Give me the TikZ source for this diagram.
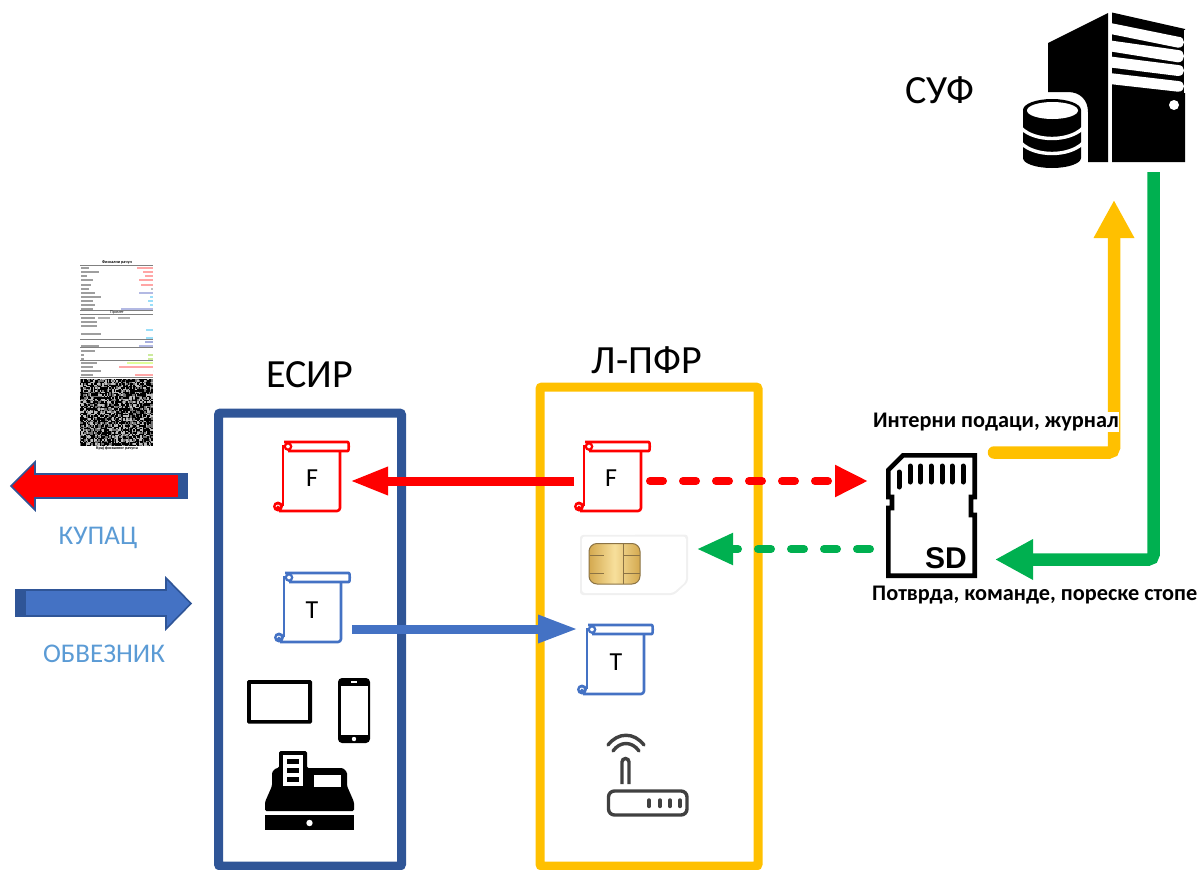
\documentclass[tikz,border=0pt]{standalone}
\usepackage{fontspec}
\setmainfont{Carlito}
\newfontfamily\sdfont{Liberation Sans}
\usetikzlibrary{arrows.meta,calc}
\definecolor{boxblue}{HTML}{2F5597}
\definecolor{midblue}{HTML}{4472C4}
\definecolor{skyblue}{HTML}{5B9BD5}
\definecolor{amber}{HTML}{FFC000}
\definecolor{leaf}{HTML}{00B050}
\definecolor{routergray}{HTML}{404040}
\definecolor{goldA}{HTML}{D4A94F}
\definecolor{goldB}{HTML}{F7DF9B}
\definecolor{goldLine}{HTML}{8B7345}
\tikzset{
  x=1pt,y=-1pt,
  container/.style={line width=9pt,rounded corners=2pt},
  bigtitle/.style={font=\fontsize{40}{44}\selectfont,text=black,inner sep=0pt},
  sidelabel/.style={font=\fontsize{27}{30}\selectfont,text=skyblue,inner sep=0pt},
  boldlabel/.style={font=\fontsize{22.3}{26}\selectfont\bfseries,text=black,inner sep=0pt},
  scrolltext/.style={font=\fontsize{26}{28}\selectfont,text=black,inner sep=0pt,minimum height=40pt},
  solidred/.style={line width=9pt,red,-{Triangle[length=38pt,width=26pt]}},
  solidblue/.style={line width=9pt,midblue,-{Triangle[length=40pt,width=26pt]}},
  dashedred/.style={line width=8pt,red,line cap=round,dash pattern=on 13pt off 20pt,-{Triangle[length=33pt,width=30pt]}},
  dashedgreen/.style={line width=8pt,leaf,line cap=round,dash pattern=on 13pt off 20pt,-{Triangle[length=36pt,width=30pt]}},
  uplink/.style={line width=12.5pt,amber,line cap=round,rounded corners=5pt,-{Triangle[length=38pt,width=38pt]}},
  downlink/.style={line width=12.5pt,leaf,rounded corners=5pt,-{Triangle[length=38pt,width=38pt]}},
  routerline/.style={routergray,line width=3.4pt,line cap=round},
  pics/scrollshape/.style={code={
    \draw[#1,line width=2.6pt,rounded corners=3pt,line join=round]
      (1,0) -- (62,0) .. controls (66,0) and (66,9) .. (62,9) -- (5,9);
    \draw[#1,line width=2.6pt,rounded corners=3pt,line join=round]
      (57,9) -- (57,69) -- (-4,69);
    \draw[#1,line width=2.6pt] (0,3) -- (0,64);
    \draw[#1,line width=2.2pt] (5,4.5) circle (3.2pt);
    \fill[#1] (-5,64.5) circle (5pt);
    \draw[white,line width=.8pt] (-7,65) arc (180:20:2pt);
  }}
}
\begin{document}
\begin{tikzpicture}
\useasboundingbox (0,0) rectangle (1203,870);

% ---------- containers
\node[draw=boxblue,container,minimum width=183pt,minimum height=453pt,inner sep=0pt] (esir) at (310,639.5) {};
\node[draw=amber,container,minimum width=218pt,minimum height=479pt,inner sep=0pt] (lpfr) at (649,626.5) {};
\node[bigtitle] (esirT) at (310,375) {ЕСИР};
\node[bigtitle] (lpfrT) at (647,360) {Л-ПФР};
\node[bigtitle] (sufT) at (940,90) {СУФ};

% ---------- receipt
\foreach \yy/\ww in {267/8,271/18,275/6,279/12,284/10,288/8,292/14,296/20,300/12,304/14,308/12,317/14,321/16,325/16,333/20,345/18,350/14,354/3,358/3,362/16,366/12,370/20,374/12}
  \fill[black!38] (81,\yy) rectangle ++(\ww,1.9);
\foreach \yy/\ww/\cc in {267/16/red!35,271/10/red!35,275/8/red!35,279/14/red!35,284/12/red!35,288/2/gray!50,292/14/cyan!30!blue!30,296/3/cyan!40,300/5/cyan!40,304/3/cyan!40,308/32/cyan!30!blue!30,329/7/cyan!40,337/7/cyan!40,341/8/cyan!30!blue!35,345/14/cyan!30!blue!30,354/5/yellow!50!green!40,358/5/yellow!50!green!40,362/26/green!30!yellow!40,366/34/red!35,370/0/gray!40,374/18/red!35}
  \fill[\cc] (153-\ww,\yy) rectangle ++(\ww,1.9);
\foreach \yy in {265,310,314,339,347,360,377}
  \fill[black!50] (80,\yy) rectangle (153,\yy+1);
\foreach \xx in {98,118}
  \fill[black!30] (\xx,317) rectangle ++(12,1.9);
\node[font=\fontsize{4.2}{5}\selectfont\bfseries,inner sep=0pt] (receiptTop) at (117,262) {Фискални рачун};
\node[font=\fontsize{4.2}{5}\selectfont,inner sep=0pt] (receiptMid) at (117,312) {Промет};
\node[font=\fontsize{4.2}{5}\selectfont\bfseries,inner sep=0pt] (receiptEnd) at (117,448.5) {Крај фискалног рачуна};
\fill[black!55] (80,379) rectangle (153,446);
\pgfmathsetseed{11}
\foreach \i in {0,...,51}{
  \foreach \j in {0,...,47}{
    \pgfmathrandominteger{\rr}{0}{3}
    \ifnum\rr<2
      \fill[black] (80+\i*1.4,379+\j*1.4) rectangle ++(1.4,1.4);
    \else\ifnum\rr=2
      \fill[white!75!black] (80+\i*1.4,379+\j*1.4) rectangle ++(1.4,1.4);
    \fi\fi
  }
}

% ---------- fat side arrows
\draw[boxblue,line width=1.6pt,fill=red,line join=miter]
  (11,486) -- (35,462) -- (35,474) -- (187,474) -- (187,498) -- (35,498) -- (35,510) -- cycle;
\fill[boxblue] (178,474) rectangle (187,498);
\draw[boxblue,line width=1.6pt,fill=midblue,line join=miter]
  (16,590) -- (166,590) -- (166,578) -- (191,603.5) -- (166,629) -- (166,616) -- (16,616) -- cycle;
\fill[boxblue] (16,590) rectangle (26,616);
\node[sidelabel] (buyer) at (98,538) {КУПАЦ};
\node[sidelabel] (payer) at (104,654) {ОБВЕЗНИК};

% ---------- scrolls
\pic at (283,442) {scrollshape=red};
\pic at (584,442) {scrollshape=red};
\pic at (284,573) {scrollshape=midblue};
\pic at (587,625) {scrollshape=midblue};
\node[scrolltext,minimum width=76pt] (eF) at (312,478) {F};
\node[scrolltext,minimum width=73pt] (lF) at (611,478) {F};
\node[scrolltext] (eT) at (312,610) {T};
\node[scrolltext] (lT) at (616,662) {T};

% ---------- tablet, phone, register
\fill[black,rounded corners=1.5pt] (247,680) rectangle (312,723.5);
\fill[white] (251,684) rectangle (308,720);
\fill[black,rounded corners=4pt] (338,678) rectangle (370,743);
\fill[white] (341,686) rectangle (367.5,735);
\fill[white] (354,739) circle (2.2pt);
\fill[white] (351,681.3) rectangle (357,682.8);
\fill[black,rounded corners=1.5pt]
  (265,811) -- (265,802) -- (272,786) -- (272,772) -- (276,768) -- (279,768) -- (279,751)
  -- (307,751) -- (307,768) -- (343,768) -- (347,772) -- (347,786) -- (354,802) -- (354,811) -- cycle;
\fill[white] (283,755) rectangle (303,786);
\fill[black] (287,759) rectangle (299,764);
\fill[black] (287,768) rectangle (299,773);
\fill[black] (287,777) rectangle (299,782);
\fill[white] (314,775) rectangle (341,787);
\fill[black] (265,814.5) rectangle (354,830);
\fill[white] (309.5,823) circle (3.2pt);

% ---------- SIM
\fill[black!6,rounded corners=3pt] (580,535) -- (688,534.5) -- (688,582) -- (674,595) -- (580,595) -- cycle;
\fill[white,rounded corners=3pt] (582,536.5) -- (686,536.5) -- (686,581.5) -- (673,593) -- (582,593) -- cycle;
\shade[left color=goldA,right color=goldA,middle color=goldB,draw=goldLine,line width=1pt,rounded corners=8pt]
  (589,543.5) rectangle (640,584);
\draw[goldLine,line width=.9pt] (589.5,555) -- (604,555) (589.5,573) -- (604,573) (623,544) -- (623,583.5) (623,555) -- (639.5,555) (623,573) -- (639.5,573);

% ---------- router
\draw[routerline,rounded corners=6pt] (608.5,791) rectangle (687,815);
\foreach \xx in {649,660,670,680} \draw[routerline] (\xx,800) -- (\xx,806.5);
\draw[routerline,line cap=butt] (622,784) -- (622,762) arc (180:0:3.5pt) -- (629,784);
\draw[routerline] (608,745) .. controls (618,732) and (634,732) .. (644,745);
\draw[routerline] (613,751) .. controls (620,741) and (632,741) .. (639,751);

% ---------- SD card
\node[minimum width=91pt,minimum height=125pt,inner sep=0pt] (sd) at (931.5,515.5) {};
\draw[black,line width=4.6pt,line join=miter]
  (888.3,470) -- (903,455.3) -- (974.7,455.3) -- (974.7,497) -- (971,497) -- (971,515) -- (974.7,515)
  -- (974.7,575.7) -- (888.3,575.7) -- (888.3,508) -- (892,508) -- (892,497) -- (888.3,497) -- cycle;
\foreach \xx in {910,920.5,931,942,952,963}
  \draw[black,line width=5pt,line cap=round] (\xx,466) -- (\xx,482);
\draw[black,line width=5pt,line cap=round] (899,472) -- (899,487);
\node[font=\sdfont\bfseries\fontsize{30}{32}\selectfont,inner sep=0pt] (sdT) at (946,558) {SD};

% ---------- server
\fill[black] (1048,43) -- (1108,13) -- (1108,162) -- (1088,162) -- (1088,112)
  .. controls (1088,100) and (1080,92) .. (1068,92) -- (1048,92) -- cycle;
\fill[black] (1112,12.5) -- (1185,29) -- (1185,162) -- (1112,162) -- cycle;
\foreach \ya/\yb/\yc/\yd in {23.3/36.7/47.7/34.3, 40.7/50/62.3/51.7, 56.7/65/76/67.7, 73.3/81/91.7/84.3}
  \fill[white] (1112,\ya) -- (1178,\yb) .. controls (1186,\yb) and (1186,\yc) .. (1178,\yc) -- (1112,\yd) -- cycle;
\fill[white] (1174,105) circle (5pt);
\fill[white] (1183.5,30) rectangle (1186,93);
\fill[black] (1023,110) arc (180:0:29pt and 11pt) -- (1081,158) arc (360:180:29pt and 10pt) -- cycle;
\fill[white] (1052.5,110.5) ellipse (25.5pt and 8.5pt);
\draw[white,line width=3.4pt] (1021,128) .. controls (1035,142) and (1069,142) .. (1083,128);
\draw[white,line width=3.4pt] (1021,143) .. controls (1035,157) and (1069,157) .. (1083,143);
\node[minimum width=137pt,minimum height=150pt,inner sep=0pt] (suf) at (1116,88) {};

% ---------- connector end points
\coordinate (redSd) at (868,481);
\coordinate (redL) at (650,481);
\coordinate (redLin) at (574,481);
\coordinate (redE) at (350,481);
\coordinate (greenSd) at (870,549);
\coordinate (greenSim) at (697,549);
\coordinate (blueE) at (352,629);
\coordinate (blueL) at (578,629);
\coordinate (sdOut) at (994,452.5);
\coordinate (bendOut) at (1114,452.5);
\coordinate (sufIn) at (1114,200);
\coordinate (sufOut) at (1153.5,172);
\coordinate (bendIn) at (1153.5,559.5);
\coordinate (sdIn) at (995,559.5);

% ---------- connectors
\draw[solidred] (redLin) -- (redE);
\draw[solidblue] (blueE) -- (blueL);
\draw[dashedred] (redL) -- (redSd);
\draw[dashedgreen] (greenSd) -- (greenSim);
\draw[uplink] (sdOut) -- (bendOut) -- (sufIn);
\draw[downlink] (sufOut) -- (bendIn) -- (sdIn);

% ---------- bold labels
\node[boldlabel,fill=white,anchor=west,minimum height=20pt] (lab1) at (873,422) {Интерни подаци, журнал};
\node[boldlabel,anchor=west] (lab2) at (872,595) {Потврда, команде, пореске стопе};
\end{tikzpicture}
\end{document}
